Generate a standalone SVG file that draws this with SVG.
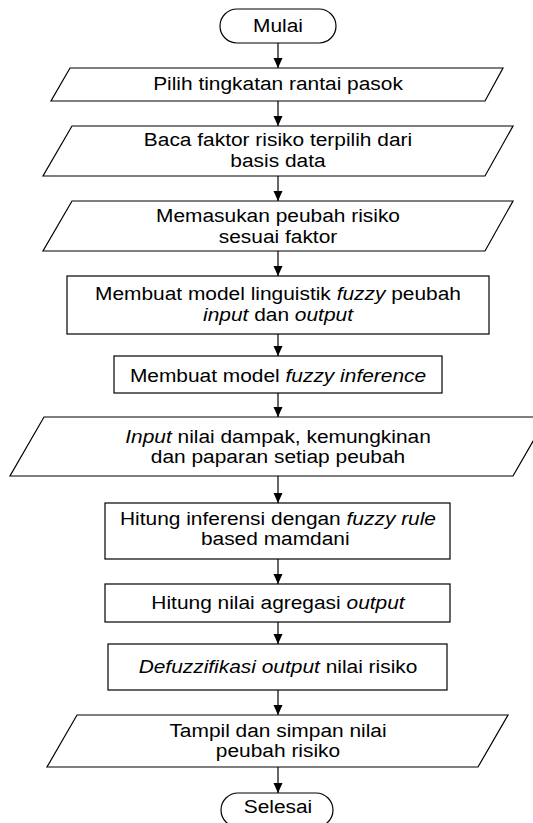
<svg xmlns="http://www.w3.org/2000/svg" width="533" height="823" viewBox="0 0 533 823">
  <style>
    .shape { fill: #fff; stroke: #000; stroke-width: 1.2; }
    .conn { stroke: #000; stroke-width: 1.2; fill: none; marker-end: url(#arrow); }
    .label { font-family: "Liberation Sans", Arial, sans-serif; font-size: 19px; fill: #000; text-anchor: middle; }
    .it { font-style: italic; }
  </style>
  <defs>
    <marker id="arrow" viewBox="0 0 10 10" refX="10" refY="5" markerWidth="10" markerHeight="10" markerUnits="userSpaceOnUse" orient="auto">
      <path d="M0,0.5 L10,5 L0,9.5 z" fill="#000"/>
    </marker>
  </defs>

  <rect width="533" height="823" fill="#fff"/>

  <!-- connectors (drawn first so shapes sit on top) -->
  <g id="connectors">
    <line class="conn" x1="278" y1="43" x2="278" y2="68"/>
    <line class="conn" x1="278" y1="101" x2="278" y2="126"/>
    <line class="conn" x1="278" y1="176" x2="278" y2="201"/>
    <line class="conn" x1="278" y1="251" x2="278" y2="276"/>
    <line class="conn" x1="278" y1="334" x2="278" y2="356"/>
    <line class="conn" x1="278" y1="393" x2="278" y2="417"/>
    <line class="conn" x1="278" y1="476" x2="278" y2="503"/>
    <line class="conn" x1="278" y1="559" x2="278" y2="584"/>
    <line class="conn" x1="278" y1="622" x2="278" y2="644"/>
    <line class="conn" x1="278" y1="690" x2="278" y2="715"/>
    <line class="conn" x1="278" y1="767" x2="278" y2="793"/>
  </g>

  <!-- node shapes -->
  <g id="start"><rect class="shape" x="220" y="9" width="116" height="34" rx="17" ry="17"/></g>
  <g id="pilih"><polygon class="shape" points="70,68 503,68 485,101 51,101"/></g>
  <g id="baca"><polygon class="shape" points="72,126 513,126 485,176 43,176"/></g>
  <g id="memasukan"><polygon class="shape" points="72,201 513,201 485,251 43,251"/></g>
  <g id="model-linguistik"><rect class="shape" x="67" y="276" width="422" height="58"/></g>
  <g id="model-inference"><rect class="shape" x="114" y="356" width="328" height="37"/></g>
  <g id="input-nilai"><polygon class="shape" points="44,417 547,417 513,476 10,476"/></g>
  <g id="hitung-inferensi"><rect class="shape" x="105" y="503" width="345" height="56"/></g>
  <g id="agregasi"><rect class="shape" x="105" y="584" width="345" height="38"/></g>
  <g id="defuzzifikasi"><rect class="shape" x="108" y="644" width="339" height="46"/></g>
  <g id="tampil"><polygon class="shape" points="77,715 508,715 478,767 47,767"/></g>
  <g id="end"><rect class="shape" x="221" y="793" width="112" height="34" rx="17" ry="17"/></g>

  <!-- labels, widened slightly around the centre line x=278 -->
  <g id="labels" transform="translate(278 0) scale(1.1 1)">
    <text class="label" x="0" y="32.5">Mulai</text>
    <text class="label" x="0" y="90">Pilih tingkatan rantai pasok</text>
    <text class="label" x="0" y="146">Baca faktor risiko terpilih dari</text>
    <text class="label" x="0" y="167">basis data</text>
    <text class="label" x="0" y="222">Memasukan peubah risiko</text>
    <text class="label" x="0" y="243">sesuai faktor</text>
    <text class="label" x="0" y="300">Membuat model linguistik <tspan class="it">fuzzy</tspan> peubah</text>
    <text class="label" x="0" y="321"><tspan class="it">input</tspan> dan <tspan class="it">output</tspan></text>
    <text class="label" x="0" y="382">Membuat model <tspan class="it">fuzzy inference</tspan></text>
    <text class="label" x="0" y="443"><tspan class="it">Input</tspan> nilai dampak, kemungkinan</text>
    <text class="label" x="0" y="463.5">dan paparan setiap peubah</text>
    <text class="label" x="0" y="525">Hitung inferensi dengan <tspan class="it">fuzzy rule</tspan></text>
    <text class="label" x="-2.5" y="545">based mamdani</text>
    <text class="label" x="0" y="609">Hitung nilai agregasi <tspan class="it">output</tspan></text>
    <text class="label" x="0" y="673"><tspan class="it">Defuzzifikasi output</tspan> nilai risiko</text>
    <text class="label" x="0" y="737">Tampil dan simpan nilai</text>
    <text class="label" x="0" y="757">peubah risiko</text>
    <text class="label" x="0" y="813">Selesai</text>
  </g>
</svg>
